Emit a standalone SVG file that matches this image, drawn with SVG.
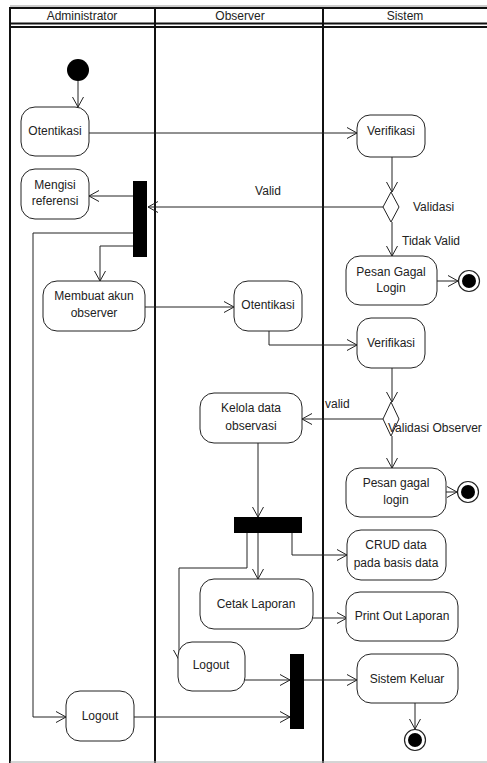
<svg xmlns="http://www.w3.org/2000/svg" width="487" height="763" viewBox="0 0 487 763">
<defs>
<marker id="arr" markerUnits="userSpaceOnUse" markerWidth="14" markerHeight="14" refX="11" refY="6" orient="auto">
<path d="M1,0.5 L11,6 L1,11.5" fill="none" stroke="#222" stroke-width="1"/>
</marker>
</defs>
<style>
.lane{stroke:#111;stroke-width:2;fill:none}
.node rect.act{fill:#fff;stroke:#222;stroke-width:1}
text{font-family:"Liberation Sans",Arial,sans-serif;font-size:12px;fill:#222;text-anchor:middle}
.lbl{text-anchor:start}
.conn path{fill:none;stroke:#222;stroke-width:1;marker-end:url(#arr)}
.conn path.plain{marker-end:none}
.bar{fill:#000}
</style>
<rect width="487" height="763" fill="#fff"/>
<g id="lanes">
<line x1="10" y1="6" x2="487" y2="6" stroke="#999" stroke-width="1"/>
<line x1="10" y1="8" x2="487" y2="8" class="lane"/>
<line x1="10" y1="23.5" x2="487" y2="23.5" class="lane"/>
<line x1="10" y1="27" x2="487" y2="27" class="lane"/>
<line x1="10" y1="7" x2="10" y2="763" class="lane"/>
<line x1="155" y1="7" x2="155" y2="763" class="lane"/>
<line x1="323" y1="7" x2="323" y2="763" class="lane"/>
<line x1="10" y1="762" x2="487" y2="762" stroke="#aaa" stroke-width="1"/>
<text x="82" y="20">Administrator</text>
<text x="240" y="20">Observer</text>
<text x="405" y="20">Sistem</text>
</g>
<g class="conn" id="connectors">
<path d="M78,81 V107"/>
<path d="M89,133 H357"/>
<path d="M392,157 V192"/>
<path d="M383,207 H148"/>
<path d="M133,196 H89"/>
<path class="plain" d="M133,233 H33 V717"/>
<path d="M33,717 H66"/>
<path d="M133,246 H100 V281"/>
<path d="M392,222 V256"/>
<path d="M437,281 H458"/>
<path d="M145,307 H234"/>
<path d="M269,331 V345 H357"/>
<path d="M392,368 V402"/>
<path d="M383,419 H302"/>
<path d="M392,436 V468"/>
<path d="M446,492 H457"/>
<path d="M258,443 V517"/>
<path d="M292,533 V555 H347"/>
<path d="M258,533 V579"/>
<path d="M247,533 V568 H179 V660"/>
<path d="M313,618 H347"/>
<path d="M245,680 H290"/>
<path d="M134,717 H290"/>
<path d="M304,680 H357"/>
<path d="M415,703 V729"/>
</g>
<g id="start" class="node"><circle cx="78" cy="70" r="11" fill="#000"/></g>
<g id="otentikasi-admin" class="node"><rect class="act" x="21" y="107" width="68" height="49" rx="14"/><text x="55" y="135">Otentikasi</text></g>
<g id="verifikasi1" class="node"><rect class="act" x="357" y="115" width="68" height="42" rx="13"/><text x="391" y="135">Verifikasi</text></g>
<g id="validasi" class="node"><polygon points="391,192 399,207 391,222 383,207" fill="#fff" stroke="#222"/></g>
<g id="mengisi" class="node"><rect class="act" x="21" y="169" width="68" height="50" rx="14"/><text x="55" y="189">Mengisi</text><text x="55" y="205">referensi</text></g>
<g id="fork1" class="node"><rect class="bar" x="133" y="181" width="14" height="76"/></g>
<g id="pesan1" class="node"><rect class="act" x="346" y="256" width="91" height="49" rx="14"/><text x="391" y="276">Pesan Gagal</text><text x="391" y="292">Login</text></g>
<g id="final1" class="node"><circle cx="469" cy="281" r="10.5" fill="#fff" stroke="#222" stroke-width="1.2"/><circle cx="469" cy="281" r="7" fill="#000"/></g>
<g id="membuat" class="node"><rect class="act" x="43" y="281" width="102" height="50" rx="14"/><text x="94" y="300">Membuat akun</text><text x="94" y="317">observer</text></g>
<g id="otentikasi-obs" class="node"><rect class="act" x="234" y="281" width="68" height="50" rx="14"/><text x="268" y="309">Otentikasi</text></g>
<g id="verifikasi2" class="node"><rect class="act" x="357" y="318" width="68" height="50" rx="14"/><text x="391" y="347">Verifikasi</text></g>
<g id="validasi-obs" class="node"><polygon points="391,402 399,419 391,436 383,419" fill="#fff" stroke="#222"/></g>
<g id="kelola" class="node"><rect class="act" x="200" y="393" width="102" height="50" rx="14"/><text x="251" y="412">Kelola data</text><text x="251" y="430">observasi</text></g>
<g id="pesan2" class="node"><rect class="act" x="346" y="468" width="100" height="49" rx="14"/><text x="396" y="487">Pesan gagal</text><text x="396" y="504">login</text></g>
<g id="final2" class="node"><circle cx="468" cy="492" r="10.5" fill="#fff" stroke="#222" stroke-width="1.2"/><circle cx="468" cy="492" r="7" fill="#000"/></g>
<g id="fork2" class="node"><rect class="bar" x="234" y="517" width="68" height="16"/></g>
<g id="crud" class="node"><rect class="act" x="347" y="530" width="99" height="50" rx="14"/><text x="396" y="549">CRUD data</text><text x="396" y="567">pada basis data</text></g>
<g id="cetak" class="node"><rect class="act" x="200" y="579" width="113" height="50" rx="14"/><text x="256" y="608">Cetak Laporan</text></g>
<g id="print" class="node"><rect class="act" x="346" y="592" width="112" height="49" rx="14"/><text x="402" y="620">Print Out Laporan</text></g>
<g id="logout-obs" class="node"><rect class="act" x="178" y="642" width="67" height="49" rx="14"/><text x="211" y="669">Logout</text></g>
<g id="join" class="node"><rect class="bar" x="290" y="654" width="14" height="75"/></g>
<g id="sistem-keluar" class="node"><rect class="act" x="357" y="654" width="101" height="49" rx="14"/><text x="407" y="683">Sistem Keluar</text></g>
<g id="logout-admin" class="node"><rect class="act" x="66" y="691" width="68" height="50" rx="14"/><text x="100" y="720">Logout</text></g>
<g id="final3" class="node"><circle cx="415" cy="740" r="10.5" fill="#fff" stroke="#222" stroke-width="1.2"/><circle cx="415" cy="740" r="7" fill="#000"/></g>
<g id="labels">
<text x="268" y="195">Valid</text>
<text class="lbl" x="413" y="211">Validasi</text>
<text class="lbl" x="402" y="245">Tidak Valid</text>
<text class="lbl" x="325" y="408">valid</text>
<text class="lbl" x="388" y="432">Validasi Observer</text>
</g>
</svg>
